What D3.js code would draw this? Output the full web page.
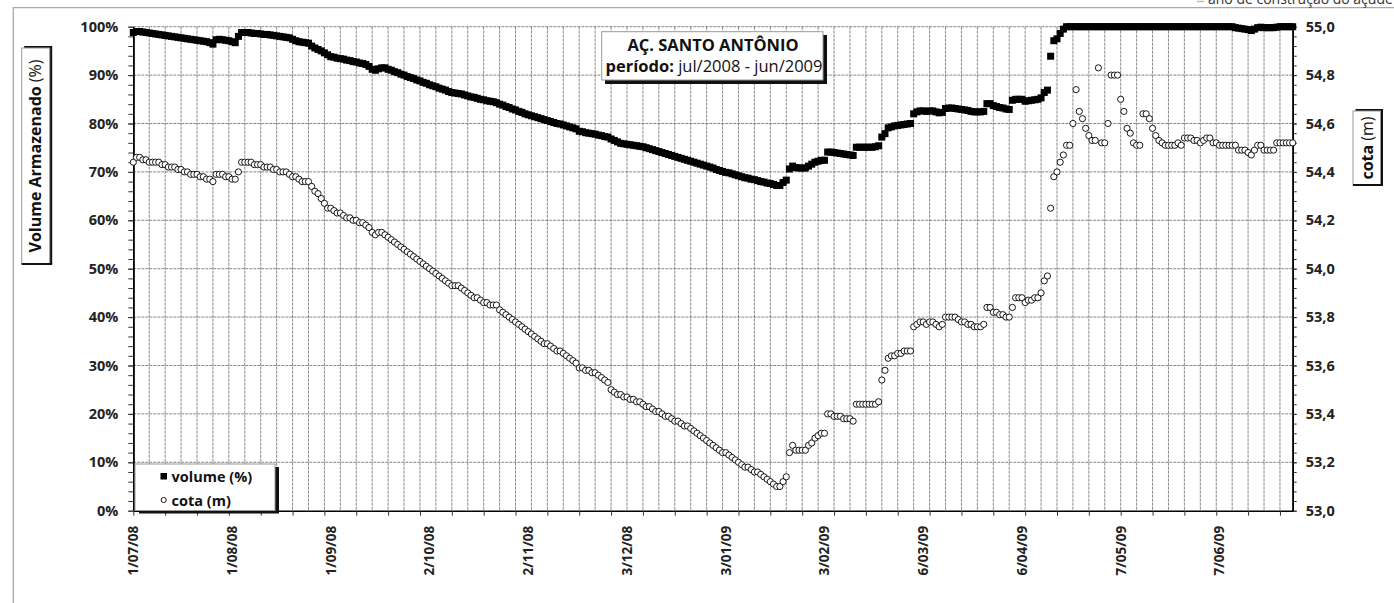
<!DOCTYPE html>
<html>
<head>
<meta charset="utf-8">
<script src="https://cdn.jsdelivr.net/npm/d3@7"></script>
<style>
  body { margin: 0; background: #fff; }
  svg { display: block; font-family: 'Open Sans', sans-serif; }
</style>
</head>
<body>
<svg id="chart" width="1394" height="603"></svg>
<script>
// daily readings, 1 jul 2008 .. 30 jun 2009
const startDate = '2008-07-01'
const xLabels = ['1/07/08', '1/08/08', '1/09/08', '2/10/08', '2/11/08', '3/12/08',
  '3/01/09', '3/02/09', '6/03/09', '6/04/09', '7/05/09', '7/06/09']
const volTicks = [0, 10, 20, 30, 40, 50, 60, 70, 80, 90, 100]
const cotaTicks = [53.0, 53.2, 53.4, 53.6, 53.8, 54.0, 54.2, 54.4, 54.6, 54.8, 55.0]

const volume = [
  98.8, 99.0, 99.0, 98.9, 98.8, 98.7, 98.6, 98.5, 98.4, 98.3,
  98.2, 98.1, 98.0, 97.9, 97.8, 97.7, 97.6, 97.5, 97.4, 97.3,
  97.2, 97.1, 97.0, 96.9, 96.7, 96.4, 97.3, 97.4, 97.3, 97.2,
  97.1, 96.9, 96.7, 98.0, 98.8, 98.8, 98.8, 98.7, 98.6, 98.6,
  98.5, 98.4, 98.4, 98.3, 98.2, 98.1, 98.0, 97.9, 97.8, 97.7,
  97.4, 97.1, 96.9, 96.8, 96.7, 96.6, 96.0, 95.6, 95.3, 95.0,
  94.6, 94.2, 93.8, 93.7, 93.5, 93.4, 93.3, 93.1, 93.0, 92.8,
  92.7, 92.5, 92.4, 92.2, 91.8, 91.2, 91.0, 91.3, 91.5, 91.5,
  91.2, 91.0, 90.7, 90.5, 90.2, 90.0, 89.7, 89.5, 89.3, 89.0,
  88.8, 88.5, 88.3, 88.0, 87.8, 87.6, 87.3, 87.1, 86.9, 86.6,
  86.4, 86.3, 86.2, 86.1, 85.9, 85.7, 85.5, 85.4, 85.2, 85.0,
  84.9, 84.7, 84.6, 84.5, 84.3, 84.0, 83.8, 83.5, 83.3, 83.0,
  82.8, 82.5, 82.3, 82.0, 81.8, 81.6, 81.4, 81.2, 81.0, 80.8,
  80.6, 80.4, 80.2, 80.0, 79.9, 79.7, 79.5, 79.3, 79.1, 78.9,
  78.4, 78.3, 78.1, 78.0, 77.9, 77.8, 77.6, 77.5, 77.3, 77.2,
  76.8, 76.5, 76.2, 75.9, 75.8, 75.7, 75.6, 75.5, 75.4, 75.3,
  75.2, 75.0, 74.8, 74.6, 74.4, 74.2, 74.0, 73.8, 73.6, 73.4,
  73.2, 73.0, 72.8, 72.6, 72.4, 72.2, 72.0, 71.8, 71.6, 71.4,
  71.2, 71.0, 70.8, 70.5, 70.3, 70.1, 69.9, 69.8, 69.6, 69.4,
  69.2, 69.0, 68.8, 68.7, 68.5, 68.4, 68.2, 68.0, 67.9, 67.7,
  67.6, 67.4, 67.2, 67.2, 67.8, 68.3, 70.6, 71.2, 70.9, 70.8,
  70.8, 70.8, 71.2, 71.6, 72.0, 72.2, 72.4, 72.4, 74.1, 74.1,
  74.0, 73.9, 73.8, 73.7, 73.6, 73.5, 73.4, 75.1, 75.1, 75.1,
  75.1, 75.1, 75.1, 75.2, 75.4, 77.2, 77.9, 79.1, 79.3, 79.5,
  79.6, 79.7, 79.8, 79.9, 80.0, 82.0, 82.4, 82.6, 82.6, 82.5,
  82.6, 82.6, 82.4, 82.2, 82.3, 83.1, 83.2, 83.2, 83.1, 83.0,
  82.9, 82.8, 82.7, 82.5, 82.4, 82.4, 82.4, 82.5, 84.1, 84.1,
  83.7, 83.5, 83.3, 83.2, 83.0, 82.9, 84.8, 85.0, 85.0, 85.0,
  84.6, 84.7, 84.8, 84.9, 85.0, 85.3, 86.4, 86.9, 93.9, 97.1,
  97.5, 98.6, 99.5, 100, 100, 100, 100, 100, 100, 100,
  100, 100, 100, 100, 100, 100, 100, 100, 100, 100,
  100, 100, 100, 100, 100, 100, 100, 100, 100, 100,
  100, 100, 100, 100, 100, 100, 100, 100, 100, 100,
  100, 100, 100, 100, 100, 100, 100, 100, 100, 100,
  100, 100, 100, 100, 100, 100, 99.8, 99.7, 99.6, 99.5,
  99.4, 99.2, 99.5, 99.8, 99.9, 99.8, 99.8, 99.8, 99.8, 99.9,
  100, 100, 100, 100, 100
]

const cota = [
  54.44, 54.46, 54.46, 54.45, 54.45, 54.44, 54.44, 54.44, 54.44, 54.43,
  54.43, 54.42, 54.42, 54.42, 54.41, 54.41, 54.40, 54.40, 54.39, 54.39,
  54.39, 54.38, 54.38, 54.37, 54.37, 54.36, 54.39, 54.39, 54.39, 54.38,
  54.38, 54.37, 54.37, 54.40, 54.44, 54.44, 54.44, 54.44, 54.43, 54.43,
  54.43, 54.42, 54.42, 54.42, 54.41, 54.41, 54.40, 54.40, 54.40, 54.39,
  54.38, 54.38, 54.37, 54.36, 54.36, 54.36, 54.34, 54.32, 54.31, 54.29,
  54.27, 54.25, 54.25, 54.24, 54.23, 54.23, 54.22, 54.21, 54.21, 54.20,
  54.20, 54.19, 54.19, 54.18, 54.17, 54.15, 54.14, 54.15, 54.15, 54.14,
  54.13, 54.12, 54.11, 54.10, 54.09, 54.08, 54.07, 54.06, 54.05, 54.04,
  54.03, 54.02, 54.01, 54.00, 53.99, 53.98, 53.97, 53.96, 53.95, 53.94,
  53.93, 53.93, 53.93, 53.92, 53.91, 53.90, 53.89, 53.88, 53.88, 53.87,
  53.86, 53.86, 53.85, 53.85, 53.85, 53.83, 53.82, 53.81, 53.80, 53.79,
  53.78, 53.77, 53.76, 53.75, 53.74, 53.73, 53.72, 53.71, 53.70, 53.69,
  53.69, 53.68, 53.67, 53.66, 53.66, 53.65, 53.64, 53.63, 53.62, 53.61,
  53.59, 53.59, 53.58, 53.58, 53.57, 53.57, 53.56, 53.55, 53.54, 53.53,
  53.50, 53.49, 53.48, 53.48, 53.47, 53.47, 53.46, 53.46, 53.45, 53.45,
  53.44, 53.43, 53.43, 53.42, 53.41, 53.41, 53.40, 53.39, 53.39, 53.38,
  53.37, 53.37, 53.36, 53.35, 53.35, 53.34, 53.33, 53.32, 53.31, 53.30,
  53.29, 53.28, 53.27, 53.26, 53.25, 53.24, 53.24, 53.23, 53.22, 53.21,
  53.20, 53.19, 53.18, 53.18, 53.17, 53.16, 53.16, 53.15, 53.14, 53.13,
  53.12, 53.11, 53.10, 53.10, 53.12, 53.14, 53.24, 53.27, 53.25, 53.25,
  53.25, 53.25, 53.27, 53.28, 53.30, 53.31, 53.32, 53.32, 53.40, 53.40,
  53.39, 53.39, 53.39, 53.38, 53.38, 53.38, 53.37, 53.44, 53.44, 53.44,
  53.44, 53.44, 53.44, 53.44, 53.45, 53.54, 53.58, 53.63, 53.64, 53.64,
  53.65, 53.65, 53.66, 53.66, 53.66, 53.76, 53.77, 53.78, 53.78, 53.77,
  53.78, 53.78, 53.77, 53.76, 53.77, 53.80, 53.80, 53.80, 53.80, 53.79,
  53.78, 53.78, 53.77, 53.77, 53.76, 53.76, 53.76, 53.77, 53.84, 53.84,
  53.82, 53.82, 53.81, 53.81, 53.80, 53.80, 53.84, 53.88, 53.88, 53.88,
  53.86, 53.87, 53.87, 53.88, 53.88, 53.90, 53.95, 53.97, 54.25, 54.38,
  54.40, 54.44, 54.47, 54.51, 54.51, 54.60, 54.74, 54.65, 54.62, 54.58,
  54.55, 54.53, 54.53, 54.83, 54.52, 54.52, 54.60, 54.80, 54.80, 54.80,
  54.70, 54.65, 54.58, 54.56, 54.52, 54.51, 54.51, 54.64, 54.64, 54.62,
  54.58, 54.55, 54.53, 54.52, 54.51, 54.51, 54.51, 54.51, 54.52, 54.51,
  54.54, 54.54, 54.54, 54.53, 54.53, 54.52, 54.53, 54.54, 54.54, 54.52,
  54.52, 54.51, 54.51, 54.51, 54.51, 54.51, 54.51, 54.49, 54.49, 54.49,
  54.48, 54.47, 54.49, 54.51, 54.51, 54.49, 54.49, 54.49, 54.49, 54.52,
  54.52, 54.52, 54.52, 54.52, 54.52
]

window.addEventListener('load', makeChart)
function makeChart() {
  const svg = d3.select('#chart')
  const left = 133.3, right = 1292.7, top = 26.7, bottom = 510.7

  const t0 = d3.timeParse('%Y-%m-%d')(startDate)
  const dayOf = (i) => d3.timeDay.offset(t0, i)
  const scX = d3.scaleTime().domain([t0, dayOf(364)]).range([left, right])
  const scV = d3.scaleLinear().domain([0, 100]).range([bottom, top])
  const scC = d3.scaleLinear().domain([53, 55]).range([bottom, top])

  // outer frame + cut note at the top
  svg.append('path')
    .attr('d', 'M13.3,603V7.7H1394')
    .attr('fill', 'none')
    .attr('stroke', '#a8a8a8')
    .attr('stroke-width', 1.3)
  svg.append('line')
    .attr('x1', 1197).attr('x2', 1204).attr('y1', 1.5).attr('y2', 1.5)
    .attr('stroke', '#bbb').attr('stroke-width', 1.5)
  svg.append('text')
    .attr('x', 1208).attr('y', 4)
    .attr('font-size', 14)
    .attr('fill', '#333')
    .text('ano de construção do açude')

  // grid
  const grid = svg.append('g')
  grid.selectAll('line.v')
    .data(d3.range(5, 365, 5).map(dayOf))
    .enter()
    .append('line')
    .attr('x1', (d) => scX(d))
    .attr('x2', (d) => scX(d))
    .attr('y1', top)
    .attr('y2', bottom)
    .attr('stroke', '#6a6a6a')
    .attr('stroke-width', 0.8)
    .attr('stroke-dasharray', '3,1')
  grid.selectAll('line.h')
    .data(volTicks.slice(1))
    .enter()
    .append('line')
    .attr('x1', left)
    .attr('x2', right)
    .attr('y1', (d) => scV(d))
    .attr('y2', (d) => scV(d))
    .attr('stroke', '#6a6a6a')
    .attr('stroke-width', 0.8)
    .attr('stroke-dasharray', '3,1')

  // axes
  const styleAxis = (g) => {
    g.select('.domain').attr('stroke', '#000').attr('stroke-width', 1.6)
    g.selectAll('.tick line').attr('stroke', '#333').attr('stroke-width', 1)
    g.selectAll('text')
      .attr('font-family', "'Open Sans', sans-serif")
      .attr('font-weight', 'bold')
      .attr('font-size', 14.5)
      .attr('fill', '#222')
  }
  const minorV = d3.range(0, 101, 2)
  svg.append('g')
    .attr('transform', `translate(${left},0)`)
    .call(d3.axisLeft(scV).tickValues(minorV).tickFormat('').tickSize(5).tickSizeOuter(0))
    .call(styleAxis)
  svg.append('g')
    .attr('transform', `translate(${left},0)`)
    .call(d3.axisLeft(scV).tickValues(volTicks).tickFormat((d) => d + '%')
      .tickSize(5).tickPadding(10).tickSizeOuter(0))
    .call(styleAxis)

  const minorC = d3.range(0, 51).map((i) => 53 + i * 0.04)
  svg.append('g')
    .attr('transform', `translate(${right},0)`)
    .call(d3.axisRight(scC).tickValues(minorC).tickFormat('').tickSize(4).tickSizeOuter(0))
    .call(styleAxis)
  svg.append('g')
    .attr('transform', `translate(${right},0)`)
    .call(d3.axisRight(scC).tickValues(cotaTicks)
      .tickFormat((d) => d3.format('.1f')(d).replace('.', ','))
      .tickSize(4).tickPadding(9).tickSizeOuter(0))
    .call(styleAxis)

  svg.append('g')
    .attr('transform', `translate(0,${bottom})`)
    .call(d3.axisBottom(scX).tickValues(d3.range(0, 365, 10).map(dayOf))
      .tickFormat('').tickSize(5).tickSizeOuter(0))
    .call(styleAxis)

  const parseLbl = d3.timeParse('%d/%m/%y')
  svg.append('g')
    .selectAll('text')
    .data(xLabels)
    .enter()
    .append('text')
    .attr('transform', (d) => `translate(${scX(parseLbl(d))},${bottom + 15}) rotate(-90)`)
    .attr('text-anchor', 'end')
    .attr('dy', '0.36em')
    .attr('font-weight', 'bold')
    .attr('font-size', 13.5)
    .attr('fill', '#222')
    .text((d) => d)

  // series
  svg.append('g')
    .selectAll('rect')
    .data(volume)
    .enter()
    .append('rect')
    .attr('x', (d, i) => scX(dayOf(i)) - 3.5)
    .attr('y', (d) => scV(d) - 3.5)
    .attr('width', 7)
    .attr('height', 7)
    .attr('fill', '#000')

  svg.append('g')
    .selectAll('circle')
    .data(cota)
    .enter()
    .append('circle')
    .attr('cx', (d, i) => scX(dayOf(i)))
    .attr('cy', (d) => scC(d))
    .attr('r', 3.1)
    .attr('fill', '#fff')
    .attr('stroke', '#000')
    .attr('stroke-width', 0.9)

  // title box
  svg.append('rect')
    .attr('x', 605).attr('y', 35).attr('width', 222).attr('height', 49)
    .attr('fill', '#111')
  svg.append('rect')
    .attr('x', 601.7).attr('y', 31.7).attr('width', 221.3).attr('height', 48.3)
    .attr('fill', '#fff').attr('stroke', '#999').attr('stroke-width', 1)
  svg.append('text')
    .attr('x', 713).attr('y', 50.5)
    .attr('text-anchor', 'middle')
    .attr('font-weight', 'bold')
    .attr('font-size', 16.5)
    .attr('fill', '#111')
    .text('AÇ. SANTO ANTÔNIO')
  const sub = svg.append('text')
    .attr('x', 714).attr('y', 72)
    .attr('text-anchor', 'middle')
    .attr('font-size', 16.5)
    .attr('fill', '#111')
  sub.append('tspan').attr('font-weight', 'bold').text('período:')
  sub.append('tspan').text(' jul/2008 - jun/2009')

  // vertical axis titles
  function sideTitle(x, y, w, h, bold, normal) {
    svg.append('rect')
      .attr('x', x + 2.5).attr('y', y - 2).attr('width', w).attr('height', h + 2)
      .attr('fill', '#111')
    svg.append('rect')
      .attr('x', x).attr('y', y).attr('width', w).attr('height', h)
      .attr('fill', '#fff').attr('stroke', '#999').attr('stroke-width', 1)
    svg.append('line')
      .attr('x1', x).attr('x2', x + w + 2.5).attr('y1', y + h).attr('y2', y + h)
      .attr('stroke', '#111').attr('stroke-width', 2)
    const t = svg.append('text')
      .attr('transform', `translate(${x + w / 2},${y + h / 2}) rotate(-90)`)
      .attr('text-anchor', 'middle')
      .attr('dy', '0.36em')
      .attr('font-size', 16)
      .attr('fill', '#111')
    t.append('tspan').attr('font-weight', 'bold').text(bold)
    t.append('tspan').text(normal)
  }
  sideTitle(21.7, 48, 28, 216, 'Volume Armazenado', ' (%)')
  sideTitle(1353, 111, 27.5, 74, 'cota', ' (m)')

  // legend
  const lg = svg.append('g')
  lg.append('rect')
    .attr('x', 139).attr('y', 467).attr('width', 140).attr('height', 46.5)
    .attr('fill', '#111')
  lg.append('rect')
    .attr('x', 135).attr('y', 464).attr('width', 140).attr('height', 46.5)
    .attr('fill', '#fff').attr('stroke', '#999').attr('stroke-width', 1)
  lg.append('rect')
    .attr('x', 160.5).attr('y', 473).attr('width', 6.5).attr('height', 6.5)
    .attr('fill', '#000')
  lg.append('circle')
    .attr('cx', 163.7).attr('cy', 500).attr('r', 2.6)
    .attr('fill', '#fff').attr('stroke', '#000').attr('stroke-width', 0.9)
  lg.selectAll('text')
    .data(['volume (%)', 'cota (m)'])
    .enter()
    .append('text')
    .attr('x', 171.5)
    .attr('y', (d, i) => 481.5 + i * 24)
    .attr('font-weight', 'bold')
    .attr('font-size', 14.5)
    .attr('fill', '#111')
    .text((d) => d)
}
</script>
</body>
</html>
